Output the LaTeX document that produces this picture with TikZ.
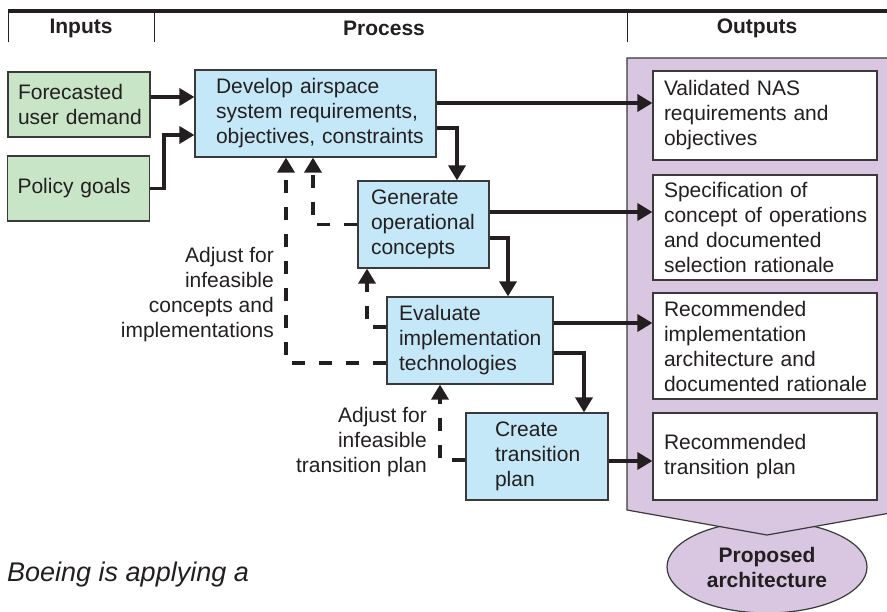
\documentclass[tikz,border=0pt]{standalone}
\usepackage{fontspec}
\setmainfont{Liberation Sans}
\usetikzlibrary{arrows.meta,shapes.geometric}
\definecolor{inputgreen}{HTML}{C9E5C7}
\definecolor{processblue}{HTML}{C5E8F8}
\definecolor{outputlilac}{HTML}{D9C6E1}
\definecolor{edgegray}{HTML}{3A3A3A}
\definecolor{inkblack}{HTML}{231F20}
\hyphenpenalty=10000
\exhyphenpenalty=10000
\begin{document}
\begin{tikzpicture}[x=1pt, y=-1pt, color=inkblack,
font=\fontsize{21}{25}\selectfont,
box/.style={draw=edgegray, line width=1.2pt, align=left, inner ysep=2pt, minimum height=87pt},
inbox/.style={box, fill=inputgreen, minimum height=65pt, text width=122pt, inner xsep=10pt},
stepbox/.style={box, fill=processblue},
outbox/.style={box, fill=white, text width=202pt, inner xsep=11pt},
head/.style={font=\fontsize{21}{25}\selectfont\bfseries},
note/.style={align=right, anchor=east, inner sep=0pt},
flow/.style={line width=3.5pt, -{Triangle[length=15pt,width=17pt]}},
feedback/.style={flow, dash pattern=on 13pt off 14pt}]
\useasboundingbox (0,0) rectangle (887,612);
\clip (0,0) rectangle (887,612);
% column heads
\draw[line width=4pt] (8,11) -- (887,11);
\draw[line width=1pt] (8,11) -- (8,42) (154,11) -- (154,42) (627,11) -- (627,42);
\node[head] (hinputs) at (81,28) {Inputs};
\node[head] (hprocess) at (384,28) {Process};
\node[head] (houtputs) at (757,28) {Outputs};
% outputs panel
\node[ellipse, draw=edgegray, fill=outputlilac, line width=1.2pt, minimum width=200pt, minimum height=92pt, head, align=center, inner sep=0pt] (proposed) at (767,567) {Proposed\\architecture};
\filldraw[fill=outputlilac, draw=edgegray, line width=1.2pt] (627,58) -- (907,58) -- (907,510) -- (767,535) -- (627,510) -- cycle;
% inputs
\node[inbox] (fcst) at (79,104.5) {Forecasted\\user~demand};
\node[inbox] (policy) at (78.5,188.5) {Policy~goals};
% process
\node[stepbox, text width=199pt, inner xsep=21pt] (develop) at (315.5,113.5) {Develop~airspace\\system~requirements,\\objectives,~constraints};
\node[stepbox, text width=105pt, inner xsep=13pt] (generate) at (423.5,224.5) {Generate\\operational\\concepts};
\node[stepbox, text width=142pt, inner xsep=12pt] (evaluate) at (470,340.5) {Evaluate\\implementation\\technologies};
\node[stepbox, text width=84pt, inner xsep=29pt] (create) at (537,456.5) {Create\\transition\\plan};
% outputs
\node[outbox, minimum height=89pt] (outreq) at (765,115.5) {Validated~NAS\\requirements~and\\objectives};
\node[outbox, minimum height=105pt] (outconops) at (765,227.5) {Specification~of\\concept~of~operations\\and~documented\\selection~rationale};
\node[outbox, minimum height=106pt] (outimpl) at (765,346) {Recommended\\implementation\\architecture~and\\documented~rationale};
\node[outbox] (outtrans) at (765,456.5) {Recommended\\transition~plan};
% feedback notes
\node[note] (adjconcepts) at (274,295) {Adjust for\\infeasible\\concepts and\\implementations};
\node[note] (adjtrans) at (427,442) {Adjust for\\infeasible\\transition plan};
\node[anchor=west, inner sep=0pt, font=\fontsize{27}{32}\selectfont\itshape] (caption) at (7,575) {Boeing is applying a};
% forward flow
\draw[flow] ([yshift=7.5pt]fcst.east) -- ([yshift=7.5pt]fcst.east -| develop.west);
\draw[flow] (policy.east) -- ++(14,0) |- ([yshift=-21.5pt]develop.west);
\draw[flow] ([yshift=10.5pt]develop.east) -- ([yshift=10.5pt]develop.east -| outreq.west);
\draw[flow] ([yshift=-14.5pt]develop.east) -| ([xshift=33.5pt]generate.north);
\draw[flow] ([yshift=12.5pt]generate.east) -- ([yshift=12.5pt]generate.east -| outconops.west);
\draw[flow] ([yshift=-13.5pt]generate.east) -| ([xshift=38pt]evaluate.north);
\draw[flow] ([yshift=17.5pt]evaluate.east) -- ([yshift=17.5pt]evaluate.east -| outimpl.west);
\draw[flow] ([yshift=-12.5pt]evaluate.east) -| ([xshift=47pt]create.north);
\draw[flow] ([yshift=-4.5pt]create.east) -- ([yshift=-4.5pt]create.east -| outtrans.west);
% feedback loops
\draw[feedback] (generate.west) -| ([xshift=-2.5pt]develop.south);
\draw[feedback] ([yshift=-22.5pt]evaluate.west) -| ([xshift=-29.5pt]develop.south);
\draw[feedback] ([yshift=13.5pt]evaluate.west) -| ([xshift=-56.5pt]generate.south);
\draw[feedback] ([yshift=-3.5pt]create.west) -| ([xshift=-30pt]evaluate.south);
\end{tikzpicture}
\end{document}
